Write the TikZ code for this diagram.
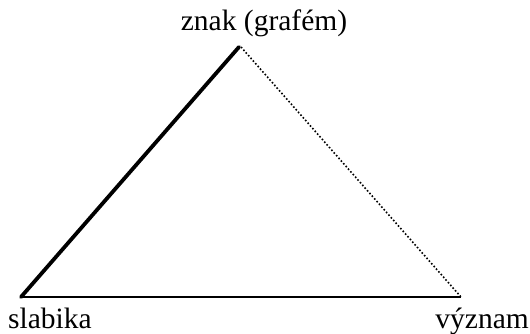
\documentclass[tikz,border=0pt]{standalone}
\usepackage{fontspec}
\setmainfont{Liberation Serif}
\begin{document}
\begin{tikzpicture}[x=1pt,y=1pt,
  lbl/.style={inner sep=0pt,font=\fontsize{29.5}{31}\selectfont}]
\useasboundingbox (0,0) rectangle (530,334);
\coordinate (apex) at (239,287);
\coordinate (left) at (21,37);
\coordinate (right) at (461,37);
\draw[line width=3.8pt,line cap=round] (left) -- (apex);
\draw[line width=1.6pt,dotted] (apex) ++(2,0) -- (right);
\draw[line width=1.1pt] (left) -- (right);
\node[lbl,anchor=base] (tl) at (264,303) {znak (grafém)};
\node[lbl,anchor=base west] (bl) at (8,5) {slabika};
\node[lbl,anchor=base east] (br) at (529,5) {význam};
\end{tikzpicture}
\end{document}
